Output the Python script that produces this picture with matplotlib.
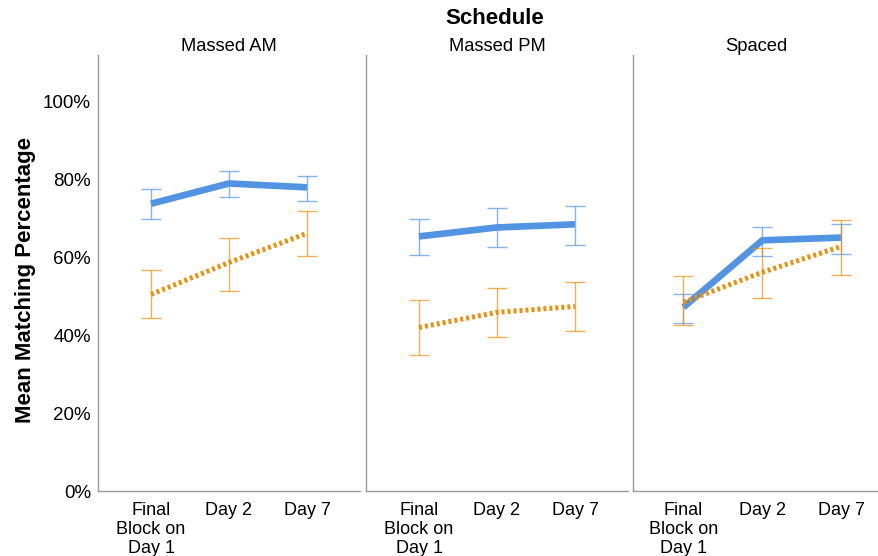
import matplotlib
matplotlib.use('Agg')
import matplotlib.pyplot as plt
from matplotlib.ticker import FuncFormatter

plt.rcParams['font.family'] = ['Liberation Sans', 'DejaVu Sans']

schedules = ['Massed AM', 'Massed PM', 'Spaced']
sessions = ['Final\nBlock on\nDay 1', 'Day 2', 'Day 7']

# mean matching % and error bar bounds per schedule (blue series)
blue_mean = [[73.8, 79.0, 78.0], [65.4, 67.7, 68.5], [47.2, 64.4, 65.1]]
blue_hi = [[77.7, 82.3, 81.0], [70.0, 72.8, 73.3], [50.5, 67.7, 68.7]]
blue_lo = [[70.0, 75.4, 74.6], [60.5, 62.8, 63.3], [43.1, 60.3, 61.0]]

# orange (dotted) series
orange_mean = [[50.5, 58.7, 66.2], [42.0, 45.9, 47.4], [48.5, 56.2, 62.8]]
orange_hi = [[56.7, 65.1, 72.0], [49.0, 52.1, 53.6], [55.2, 62.3, 69.7]]
orange_lo = [[44.4, 51.5, 60.3], [34.9, 39.5, 41.0], [42.6, 49.5, 55.6]]

blue = '#5294e2'
orange = '#e8900f'

W, H = 879, 556
fig = plt.figure(figsize=(W / 100, H / 100), dpi=100)

# panel extents in pixels (left, right) and x limits
panels = [(98, 360, (-0.68, 2.68)), (366, 628, (-0.68, 2.68)), (633, 879, (-0.64, 2.48))]
top, bottom = 55, 491

x = [0, 1, 2]
for i, (l, r, xl) in enumerate(panels):
    ax = fig.add_axes([l / W, 1 - bottom / H, (r - l) / W, (bottom - top) / H])
    for mean, lo, hi, col, ls, lw, z in [
        (blue_mean[i], blue_lo[i], blue_hi[i], blue, '-', 4.8, 3),
        (orange_mean[i], orange_lo[i], orange_hi[i], orange, (0, (0.6, 0.6)), 3.6, 4)]:
        yerr = [[m - a for m, a in zip(mean, lo)], [b - m for m, b in zip(mean, hi)]]
        ax.errorbar(x, mean, yerr=yerr, fmt='none', ecolor=col, alpha=0.7,
                    elinewidth=1.0, capsize=7.2, capthick=1.0, zorder=z - 1)
        ax.plot(x, mean, color=col, linestyle=ls, linewidth=lw,
                solid_capstyle='butt', dash_capstyle='butt', zorder=z)
    ax.set_xlim(*xl)
    ax.set_ylim(0, 112)
    ax.set_yticks([0, 20, 40, 60, 80, 100])
    ax.yaxis.set_major_formatter(FuncFormatter(lambda v, p: '%d%%' % v))
    ax.set_xticks(x)
    ax.set_xticklabels(sessions, fontsize=13, linespacing=1.15, va='top')
    ax.tick_params(axis='x', length=0, pad=8, labelsize=13)
    ax.tick_params(axis='y', length=0, pad=5, labelsize=13.5)
    for s in ['top', 'right']:
        ax.spines[s].set_visible(False)
    for s in ['left', 'bottom']:
        ax.spines[s].set_color('#9a9a9a')
        ax.spines[s].set_linewidth(1.0)
    ax.set_title(schedules[i], fontsize=13.2, pad=3)
    if i == 0:
        ax.set_ylabel('Mean Matching Percentage', fontsize=16, fontweight='bold',
                      labelpad=5, y=0.484)
    else:
        ax.tick_params(labelleft=False)

fig.text(495 / W, 1 - 18 / H, 'Schedule', ha='center', va='center',
         fontsize=16, fontweight='bold')

fig.savefig('out.png', dpi=100)
